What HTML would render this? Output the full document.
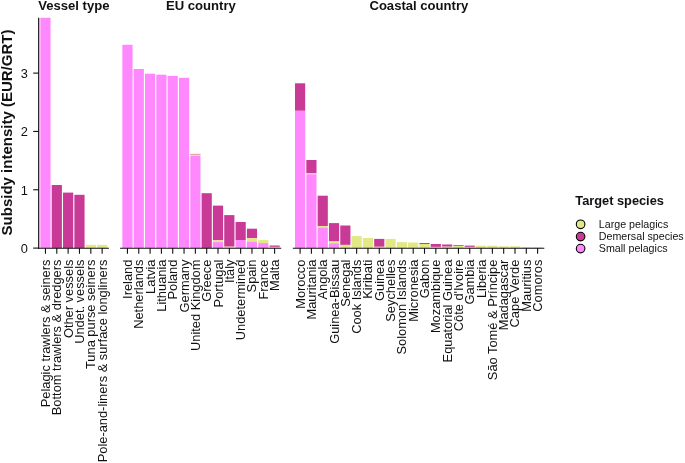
<!DOCTYPE html>
<html lang="en"><head><meta charset="utf-8"><title>Subsidy intensity</title>
<style>html,body{margin:0;padding:0;background:#fff}svg{display:block;will-change:transform;opacity:.999}text{font-family:"Liberation Sans",sans-serif;fill:#111}</style></head><body>
<svg width="685" height="463" viewBox="0 0 685 463">
<rect width="685" height="463" fill="#fff"/>
<text transform="translate(12.1,235.4) rotate(-90)" font-size="13.8" font-weight="bold" textLength="205.8" lengthAdjust="spacingAndGlyphs">Subsidy intensity (EUR/GRT)</text>
<line x1="33.2" x2="38.8" y1="248.10" y2="248.10" stroke="#111" stroke-width="1.1"/>
<text x="28.0" y="253.00" font-size="12" text-anchor="end" textLength="7.14" lengthAdjust="spacingAndGlyphs">0</text>
<line x1="33.2" x2="38.8" y1="189.77" y2="189.77" stroke="#111" stroke-width="1.1"/>
<text x="28.0" y="194.67" font-size="12" text-anchor="end" textLength="7.14" lengthAdjust="spacingAndGlyphs">1</text>
<line x1="33.2" x2="38.8" y1="131.44" y2="131.44" stroke="#111" stroke-width="1.1"/>
<text x="28.0" y="136.34" font-size="12" text-anchor="end" textLength="7.14" lengthAdjust="spacingAndGlyphs">2</text>
<line x1="33.2" x2="38.8" y1="73.11" y2="73.11" stroke="#111" stroke-width="1.1"/>
<text x="28.0" y="78.01" font-size="12" text-anchor="end" textLength="7.14" lengthAdjust="spacingAndGlyphs">3</text>
<rect x="40.35" y="17.80" width="10.2" height="230.30" fill="#FF88FF"/>
<rect x="51.69" y="185.00" width="10.2" height="63.10" fill="#C83A96"/>
<rect x="63.03" y="192.60" width="10.2" height="55.50" fill="#C83A96"/>
<rect x="74.37" y="194.80" width="10.2" height="53.30" fill="#C83A96"/>
<rect x="85.71" y="244.85" width="10.2" height="3.25" fill="#E3E887"/>
<rect x="97.05" y="244.85" width="10.2" height="3.25" fill="#E3E887"/>
<line x1="38.25" x2="108.90" y1="248.25" y2="248.25" stroke="#111" stroke-width="1.1"/>
<line x1="45.45" x2="45.45" y1="248.1" y2="253.8" stroke="#111" stroke-width="1.1"/>
<text transform="translate(49.95,259.6) rotate(-90)" font-size="12" text-anchor="end" textLength="147.7" lengthAdjust="spacingAndGlyphs">Pelagic trawlers &amp; seiners</text>
<line x1="56.79" x2="56.79" y1="248.1" y2="253.8" stroke="#111" stroke-width="1.1"/>
<text transform="translate(61.29,259.6) rotate(-90)" font-size="12" text-anchor="end" textLength="155.6" lengthAdjust="spacingAndGlyphs">Bottom trawlers &amp; dredgers</text>
<line x1="68.13" x2="68.13" y1="248.1" y2="253.8" stroke="#111" stroke-width="1.1"/>
<text transform="translate(72.63,259.6) rotate(-90)" font-size="12" text-anchor="end" textLength="78.5" lengthAdjust="spacingAndGlyphs">Other vessels</text>
<line x1="79.47" x2="79.47" y1="248.1" y2="253.8" stroke="#111" stroke-width="1.1"/>
<text transform="translate(83.97,259.6) rotate(-90)" font-size="12" text-anchor="end" textLength="84.2" lengthAdjust="spacingAndGlyphs">Undet. vessels</text>
<line x1="90.81" x2="90.81" y1="248.1" y2="253.8" stroke="#111" stroke-width="1.1"/>
<text transform="translate(95.31,259.6) rotate(-90)" font-size="12" text-anchor="end" textLength="109.4" lengthAdjust="spacingAndGlyphs">Tuna purse seiners</text>
<line x1="102.15" x2="102.15" y1="248.1" y2="253.8" stroke="#111" stroke-width="1.1"/>
<text transform="translate(106.65,259.6) rotate(-90)" font-size="12" text-anchor="end" textLength="202.7" lengthAdjust="spacingAndGlyphs">Pole-and-liners &amp; surface longliners</text>
<text x="73.85" y="9.9" font-size="12" font-weight="bold" text-anchor="middle" textLength="71.3" lengthAdjust="spacingAndGlyphs">Vessel type</text>
<rect x="122.35" y="44.80" width="10.2" height="203.30" fill="#FF88FF"/>
<rect x="133.67" y="69.00" width="10.2" height="179.10" fill="#FF88FF"/>
<rect x="144.99" y="73.70" width="10.2" height="174.40" fill="#FF88FF"/>
<rect x="156.31" y="74.70" width="10.2" height="173.40" fill="#FF88FF"/>
<rect x="167.63" y="75.90" width="10.2" height="172.20" fill="#FF88FF"/>
<rect x="178.95" y="77.80" width="10.2" height="170.30" fill="#FF88FF"/>
<rect x="190.27" y="153.90" width="10.2" height="0.70" fill="#C83A96"/>
<rect x="190.27" y="154.60" width="10.2" height="1.40" fill="#E3E887"/>
<rect x="190.27" y="156.00" width="10.2" height="92.10" fill="#FF88FF"/>
<rect x="201.59" y="193.20" width="10.2" height="54.90" fill="#C83A96"/>
<rect x="212.91" y="205.60" width="10.2" height="34.70" fill="#C83A96"/>
<rect x="212.91" y="240.30" width="10.2" height="1.80" fill="#E3E887"/>
<rect x="212.91" y="242.10" width="10.2" height="6.00" fill="#FF88FF"/>
<rect x="224.23" y="215.10" width="10.2" height="31.60" fill="#C83A96"/>
<rect x="224.23" y="246.70" width="10.2" height="1.40" fill="#E3E887"/>
<rect x="235.55" y="222.00" width="10.2" height="18.00" fill="#C83A96"/>
<rect x="235.55" y="240.00" width="10.2" height="8.10" fill="#FF88FF"/>
<rect x="246.87" y="228.70" width="10.2" height="9.40" fill="#C83A96"/>
<rect x="246.87" y="238.10" width="10.2" height="3.50" fill="#E3E887"/>
<rect x="246.87" y="241.60" width="10.2" height="6.50" fill="#FF88FF"/>
<rect x="258.19" y="240.10" width="10.2" height="3.00" fill="#E3E887"/>
<rect x="258.19" y="243.10" width="10.2" height="5.00" fill="#FF88FF"/>
<rect x="269.51" y="245.50" width="10.2" height="1.40" fill="#C83A96"/>
<rect x="269.51" y="246.90" width="10.2" height="1.20" fill="#E3E887"/>
<line x1="120.05" x2="281.20" y1="248.25" y2="248.25" stroke="#111" stroke-width="1.1"/>
<line x1="127.45" x2="127.45" y1="248.1" y2="253.8" stroke="#111" stroke-width="1.1"/>
<text transform="translate(131.95,259.6) rotate(-90)" font-size="12" text-anchor="end" textLength="39.3" lengthAdjust="spacingAndGlyphs">Ireland</text>
<line x1="138.77" x2="138.77" y1="248.1" y2="253.8" stroke="#111" stroke-width="1.1"/>
<text transform="translate(143.27,259.6) rotate(-90)" font-size="12" text-anchor="end" textLength="69.2" lengthAdjust="spacingAndGlyphs">Netherlands</text>
<line x1="150.09" x2="150.09" y1="248.1" y2="253.8" stroke="#111" stroke-width="1.1"/>
<text transform="translate(154.59,259.6) rotate(-90)" font-size="12" text-anchor="end" textLength="34.3" lengthAdjust="spacingAndGlyphs">Latvia</text>
<line x1="161.41" x2="161.41" y1="248.1" y2="253.8" stroke="#111" stroke-width="1.1"/>
<text transform="translate(165.91,259.6) rotate(-90)" font-size="12" text-anchor="end" textLength="52.1" lengthAdjust="spacingAndGlyphs">Lithuania</text>
<line x1="172.73" x2="172.73" y1="248.1" y2="253.8" stroke="#111" stroke-width="1.1"/>
<text transform="translate(177.23,259.6) rotate(-90)" font-size="12" text-anchor="end" textLength="40.0" lengthAdjust="spacingAndGlyphs">Poland</text>
<line x1="184.05" x2="184.05" y1="248.1" y2="253.8" stroke="#111" stroke-width="1.1"/>
<text transform="translate(188.55,259.6) rotate(-90)" font-size="12" text-anchor="end" textLength="52.8" lengthAdjust="spacingAndGlyphs">Germany</text>
<line x1="195.37" x2="195.37" y1="248.1" y2="253.8" stroke="#111" stroke-width="1.1"/>
<text transform="translate(199.87,259.6) rotate(-90)" font-size="12" text-anchor="end" textLength="91.4" lengthAdjust="spacingAndGlyphs">United Kingdom</text>
<line x1="206.69" x2="206.69" y1="248.1" y2="253.8" stroke="#111" stroke-width="1.1"/>
<text transform="translate(211.19,259.6) rotate(-90)" font-size="12" text-anchor="end" textLength="42.1" lengthAdjust="spacingAndGlyphs">Greece</text>
<line x1="218.01" x2="218.01" y1="248.1" y2="253.8" stroke="#111" stroke-width="1.1"/>
<text transform="translate(222.51,259.6) rotate(-90)" font-size="12" text-anchor="end" textLength="47.8" lengthAdjust="spacingAndGlyphs">Portugal</text>
<line x1="229.33" x2="229.33" y1="248.1" y2="253.8" stroke="#111" stroke-width="1.1"/>
<text transform="translate(233.83,259.6) rotate(-90)" font-size="12" text-anchor="end" textLength="23.5" lengthAdjust="spacingAndGlyphs">Italy</text>
<line x1="240.65" x2="240.65" y1="248.1" y2="253.8" stroke="#111" stroke-width="1.1"/>
<text transform="translate(245.15,259.6) rotate(-90)" font-size="12" text-anchor="end" textLength="80.7" lengthAdjust="spacingAndGlyphs">Undetermined</text>
<line x1="251.97" x2="251.97" y1="248.1" y2="253.8" stroke="#111" stroke-width="1.1"/>
<text transform="translate(256.47,259.6) rotate(-90)" font-size="12" text-anchor="end" textLength="32.8" lengthAdjust="spacingAndGlyphs">Spain</text>
<line x1="263.29" x2="263.29" y1="248.1" y2="253.8" stroke="#111" stroke-width="1.1"/>
<text transform="translate(267.79,259.6) rotate(-90)" font-size="12" text-anchor="end" textLength="40.0" lengthAdjust="spacingAndGlyphs">France</text>
<line x1="274.61" x2="274.61" y1="248.1" y2="253.8" stroke="#111" stroke-width="1.1"/>
<text transform="translate(279.11,259.6) rotate(-90)" font-size="12" text-anchor="end" textLength="31.4" lengthAdjust="spacingAndGlyphs">Malta</text>
<text x="200.90" y="9.9" font-size="12" font-weight="bold" text-anchor="middle" textLength="69.8" lengthAdjust="spacingAndGlyphs">EU country</text>
<rect x="295.00" y="83.30" width="10.2" height="27.50" fill="#C83A96"/>
<rect x="295.00" y="110.80" width="10.2" height="137.30" fill="#FF88FF"/>
<rect x="306.31" y="160.00" width="10.2" height="13.40" fill="#C83A96"/>
<rect x="306.31" y="173.40" width="10.2" height="0.90" fill="#E3E887"/>
<rect x="306.31" y="174.30" width="10.2" height="73.80" fill="#FF88FF"/>
<rect x="317.62" y="195.70" width="10.2" height="30.30" fill="#C83A96"/>
<rect x="317.62" y="226.00" width="10.2" height="1.50" fill="#E3E887"/>
<rect x="317.62" y="227.50" width="10.2" height="20.60" fill="#FF88FF"/>
<rect x="328.93" y="223.10" width="10.2" height="18.30" fill="#C83A96"/>
<rect x="328.93" y="241.40" width="10.2" height="1.90" fill="#E3E887"/>
<rect x="328.93" y="243.30" width="10.2" height="4.80" fill="#FF88FF"/>
<rect x="340.24" y="225.50" width="10.2" height="19.40" fill="#C83A96"/>
<rect x="340.24" y="244.90" width="10.2" height="3.20" fill="#E3E887"/>
<rect x="351.55" y="236.10" width="10.2" height="12.00" fill="#E3E887"/>
<rect x="362.86" y="238.00" width="10.2" height="10.10" fill="#E3E887"/>
<rect x="374.17" y="238.90" width="10.2" height="7.90" fill="#C83A96"/>
<rect x="374.17" y="246.80" width="10.2" height="1.30" fill="#E3E887"/>
<rect x="385.48" y="238.90" width="10.2" height="9.20" fill="#E3E887"/>
<rect x="396.79" y="242.10" width="10.2" height="6.00" fill="#E3E887"/>
<rect x="408.10" y="242.50" width="10.2" height="5.60" fill="#E3E887"/>
<rect x="419.41" y="243.00" width="10.2" height="1.00" fill="#C83A96"/>
<rect x="419.41" y="244.00" width="10.2" height="4.10" fill="#E3E887"/>
<rect x="430.72" y="244.00" width="10.2" height="2.90" fill="#C83A96"/>
<rect x="430.72" y="246.90" width="10.2" height="1.20" fill="#E3E887"/>
<rect x="442.03" y="244.50" width="10.2" height="2.20" fill="#C83A96"/>
<rect x="442.03" y="246.70" width="10.2" height="1.40" fill="#E3E887"/>
<rect x="453.34" y="245.00" width="10.2" height="0.90" fill="#C83A96"/>
<rect x="453.34" y="245.90" width="10.2" height="2.20" fill="#E3E887"/>
<rect x="464.65" y="245.60" width="10.2" height="1.30" fill="#C83A96"/>
<rect x="464.65" y="246.90" width="10.2" height="1.20" fill="#E3E887"/>
<rect x="475.96" y="245.70" width="10.2" height="2.40" fill="#E3E887"/>
<rect x="487.27" y="245.70" width="10.2" height="2.40" fill="#E3E887"/>
<rect x="498.58" y="246.30" width="10.2" height="1.80" fill="#E3E887"/>
<rect x="509.89" y="246.30" width="10.2" height="1.80" fill="#E3E887"/>
<rect x="521.20" y="247.20" width="10.2" height="0.90" fill="#E3E887"/>
<rect x="532.51" y="247.20" width="10.2" height="0.90" fill="#E3E887"/>
<line x1="292.85" x2="544.30" y1="248.25" y2="248.25" stroke="#111" stroke-width="1.1"/>
<line x1="300.10" x2="300.10" y1="248.1" y2="253.8" stroke="#111" stroke-width="1.1"/>
<text transform="translate(304.60,259.6) rotate(-90)" font-size="12" text-anchor="end" textLength="49.2" lengthAdjust="spacingAndGlyphs">Morocco</text>
<line x1="311.41" x2="311.41" y1="248.1" y2="253.8" stroke="#111" stroke-width="1.1"/>
<text transform="translate(315.91,259.6) rotate(-90)" font-size="12" text-anchor="end" textLength="59.9" lengthAdjust="spacingAndGlyphs">Mauritania</text>
<line x1="322.72" x2="322.72" y1="248.1" y2="253.8" stroke="#111" stroke-width="1.1"/>
<text transform="translate(327.22,259.6) rotate(-90)" font-size="12" text-anchor="end" textLength="40.0" lengthAdjust="spacingAndGlyphs">Angola</text>
<line x1="334.03" x2="334.03" y1="248.1" y2="253.8" stroke="#111" stroke-width="1.1"/>
<text transform="translate(338.53,259.6) rotate(-90)" font-size="12" text-anchor="end" textLength="84.2" lengthAdjust="spacingAndGlyphs">Guinea-Bissau</text>
<line x1="345.34" x2="345.34" y1="248.1" y2="253.8" stroke="#111" stroke-width="1.1"/>
<text transform="translate(349.84,259.6) rotate(-90)" font-size="12" text-anchor="end" textLength="47.1" lengthAdjust="spacingAndGlyphs">Senegal</text>
<line x1="356.65" x2="356.65" y1="248.1" y2="253.8" stroke="#111" stroke-width="1.1"/>
<text transform="translate(361.15,259.6) rotate(-90)" font-size="12" text-anchor="end" textLength="74.2" lengthAdjust="spacingAndGlyphs">Cook Islands</text>
<line x1="367.96" x2="367.96" y1="248.1" y2="253.8" stroke="#111" stroke-width="1.1"/>
<text transform="translate(372.46,259.6) rotate(-90)" font-size="12" text-anchor="end" textLength="39.2" lengthAdjust="spacingAndGlyphs">Kiribati</text>
<line x1="379.27" x2="379.27" y1="248.1" y2="253.8" stroke="#111" stroke-width="1.1"/>
<text transform="translate(383.77,259.6) rotate(-90)" font-size="12" text-anchor="end" textLength="41.4" lengthAdjust="spacingAndGlyphs">Guinea</text>
<line x1="390.58" x2="390.58" y1="248.1" y2="253.8" stroke="#111" stroke-width="1.1"/>
<text transform="translate(395.08,259.6) rotate(-90)" font-size="12" text-anchor="end" textLength="62.1" lengthAdjust="spacingAndGlyphs">Seychelles</text>
<line x1="401.89" x2="401.89" y1="248.1" y2="253.8" stroke="#111" stroke-width="1.1"/>
<text transform="translate(406.39,259.6) rotate(-90)" font-size="12" text-anchor="end" textLength="94.9" lengthAdjust="spacingAndGlyphs">Solomon Islands</text>
<line x1="413.20" x2="413.20" y1="248.1" y2="253.8" stroke="#111" stroke-width="1.1"/>
<text transform="translate(417.70,259.6) rotate(-90)" font-size="12" text-anchor="end" textLength="62.1" lengthAdjust="spacingAndGlyphs">Micronesia</text>
<line x1="424.51" x2="424.51" y1="248.1" y2="253.8" stroke="#111" stroke-width="1.1"/>
<text transform="translate(429.01,259.6) rotate(-90)" font-size="12" text-anchor="end" textLength="38.6" lengthAdjust="spacingAndGlyphs">Gabon</text>
<line x1="435.82" x2="435.82" y1="248.1" y2="253.8" stroke="#111" stroke-width="1.1"/>
<text transform="translate(440.32,259.6) rotate(-90)" font-size="12" text-anchor="end" textLength="73.5" lengthAdjust="spacingAndGlyphs">Mozambique</text>
<line x1="447.13" x2="447.13" y1="248.1" y2="253.8" stroke="#111" stroke-width="1.1"/>
<text transform="translate(451.63,259.6) rotate(-90)" font-size="12" text-anchor="end" textLength="102.8" lengthAdjust="spacingAndGlyphs">Equatorial Guinea</text>
<line x1="458.44" x2="458.44" y1="248.1" y2="253.8" stroke="#111" stroke-width="1.1"/>
<text transform="translate(462.94,259.6) rotate(-90)" font-size="12" text-anchor="end" textLength="71.7" lengthAdjust="spacingAndGlyphs">Côte d'Ivoire</text>
<line x1="469.75" x2="469.75" y1="248.1" y2="253.8" stroke="#111" stroke-width="1.1"/>
<text transform="translate(474.25,259.6) rotate(-90)" font-size="12" text-anchor="end" textLength="45.0" lengthAdjust="spacingAndGlyphs">Gambia</text>
<line x1="481.06" x2="481.06" y1="248.1" y2="253.8" stroke="#111" stroke-width="1.1"/>
<text transform="translate(485.56,259.6) rotate(-90)" font-size="12" text-anchor="end" textLength="38.5" lengthAdjust="spacingAndGlyphs">Liberia</text>
<line x1="492.37" x2="492.37" y1="248.1" y2="253.8" stroke="#111" stroke-width="1.1"/>
<text transform="translate(496.87,259.6) rotate(-90)" font-size="12" text-anchor="end" textLength="120.6" lengthAdjust="spacingAndGlyphs">São Tomé &amp; Príncipe</text>
<line x1="503.68" x2="503.68" y1="248.1" y2="253.8" stroke="#111" stroke-width="1.1"/>
<text transform="translate(508.18,259.6) rotate(-90)" font-size="12" text-anchor="end" textLength="70.7" lengthAdjust="spacingAndGlyphs">Madagascar</text>
<line x1="514.99" x2="514.99" y1="248.1" y2="253.8" stroke="#111" stroke-width="1.1"/>
<text transform="translate(519.49,259.6) rotate(-90)" font-size="12" text-anchor="end" textLength="67.8" lengthAdjust="spacingAndGlyphs">Cape Verde</text>
<line x1="526.30" x2="526.30" y1="248.1" y2="253.8" stroke="#111" stroke-width="1.1"/>
<text transform="translate(530.80,259.6) rotate(-90)" font-size="12" text-anchor="end" textLength="52.1" lengthAdjust="spacingAndGlyphs">Mauritius</text>
<line x1="537.61" x2="537.61" y1="248.1" y2="253.8" stroke="#111" stroke-width="1.1"/>
<text transform="translate(542.11,259.6) rotate(-90)" font-size="12" text-anchor="end" textLength="52.1" lengthAdjust="spacingAndGlyphs">Comoros</text>
<text x="418.85" y="9.9" font-size="12" font-weight="bold" text-anchor="middle" textLength="98.8" lengthAdjust="spacingAndGlyphs">Coastal country</text>
<line x1="38.7" x2="38.7" y1="17.8" y2="248.65" stroke="#111" stroke-width="1.2"/>
<text x="575.3" y="204.8" font-size="12" font-weight="bold" textLength="88.6" lengthAdjust="spacingAndGlyphs">Target species</text>
<circle cx="580.6" cy="224.3" r="4.3" fill="#E3E887" stroke="#000" stroke-width="1.1"/>
<text x="598.8" y="228.2" font-size="10.5" textLength="69.5" lengthAdjust="spacingAndGlyphs">Large pelagics</text>
<circle cx="580.6" cy="236.6" r="4.3" fill="#C83A96" stroke="#000" stroke-width="1.1"/>
<text x="598.8" y="240.4" font-size="10.5" textLength="84.9" lengthAdjust="spacingAndGlyphs">Demersal species</text>
<circle cx="580.6" cy="248.6" r="4.3" fill="#FF88FF" stroke="#000" stroke-width="1.1"/>
<text x="598.8" y="252.2" font-size="10.5" textLength="68.8" lengthAdjust="spacingAndGlyphs">Small pelagics</text>
</svg></body></html>
